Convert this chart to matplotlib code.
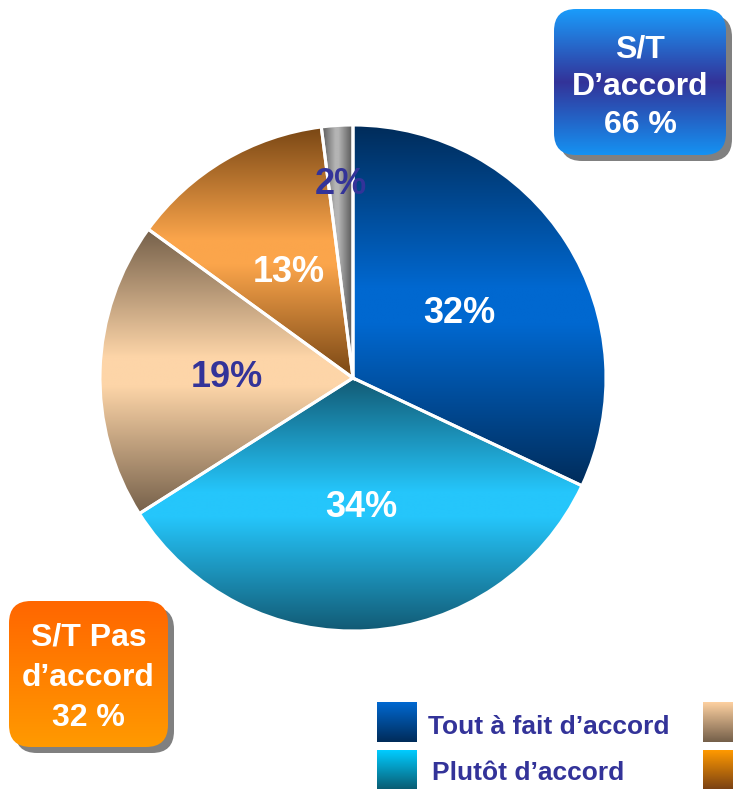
import numpy as np
import matplotlib
matplotlib.use("Agg")
import matplotlib.pyplot as plt
from matplotlib.colors import LinearSegmentedColormap
from matplotlib.patches import FancyBboxPatch, Rectangle

# ---------------- data ----------------
categories = ["Tout à fait d'accord", "Plutôt d'accord", "Plutôt pas d'accord",
              "Pas du tout d'accord", "NSP"]
legend_labels = ["Tout à fait d’accord", "Plutôt d’accord"]
values = [32, 34, 19, 13, 2]
pct_labels = ["32%", "34%", "19%", "13%", "2%"]
label_colors = ["white", "white", "#333399", "white", "#333399"]
box_top_lines = ["S/T", "D’accord", "66 %"]
box_bottom_lines = ["S/T Pas", "d’accord", "32 %"]

# gradient colours per slice (dark edge, bright centre)
slice_dark = ["#002c5a", "#125a74", "#75604a", "#784614", "#555555"]
slice_bright = ["#0068d0", "#25c6fb", "#fdd5a8", "#fba54b", "#b4b4b4"]

W, H = 733, 789
plt.rcParams['font.family'] = ['Liberation Sans', 'DejaVu Sans']
fig = plt.figure(figsize=(W / 100, H / 100), dpi=100)
ax = fig.add_axes([0, 0, 1, 1])


def Y(py):
    return H - py


cx, cy, R = 353, Y(378), 253

wedges, _ = ax.pie(values, startangle=90, counterclock=False,
                   center=(cx, cy), radius=R,
                   wedgeprops=dict(facecolor="none", edgecolor="white",
                                   linewidth=2.2, zorder=5))

for i, w in enumerate(wedges):
    bb = w.get_path().get_extents()
    cmap = LinearSegmentedColormap.from_list(
        "g%d" % i, [(0, slice_dark[i]), (0.45, slice_bright[i]),
                    (0.55, slice_bright[i]), (1, slice_dark[i])])
    t = np.linspace(0, 1, 256)
    if i == 4:
        img = t[None, :]
    else:
        img = t[:, None]
    im = ax.imshow(img, cmap=cmap, extent=[bb.x0, bb.x1, bb.y0, bb.y1],
                   origin="lower", aspect="auto", interpolation="bilinear", zorder=2)
    im.set_clip_path(w)

    # label
    mid = np.deg2rad((w.theta1 + w.theta2) / 2)
    frac = 0.78 if i == 4 else 0.5
    ax.text(cx + frac * R * np.cos(mid), cy + frac * R * np.sin(mid) - 3, pct_labels[i],
            ha="center", va="center", fontsize=26, fontweight="bold",
            color=label_colors[i], zorder=7)


def gradient_box(x0, y0, x1, y1, colors, stops, lines, line_gap, yshift):
    shadow = FancyBboxPatch((x0 + 6, y0 - 6), x1 - x0, y1 - y0,
                            boxstyle="round,pad=0,rounding_size=22",
                            facecolor="#808080", edgecolor="none", zorder=3)
    ax.add_patch(shadow)
    box = FancyBboxPatch((x0, y0), x1 - x0, y1 - y0,
                         boxstyle="round,pad=0,rounding_size=22",
                         facecolor="none", edgecolor="none", zorder=4)
    ax.add_patch(box)
    cmap = LinearSegmentedColormap.from_list("b", list(zip(stops, colors)))
    im = ax.imshow(np.linspace(0, 1, 256)[:, None], cmap=cmap,
                   extent=[x0, x1, y0, y1], origin="lower", aspect="auto",
                   interpolation="bilinear", zorder=4)
    im.set_clip_path(box)
    xc = (x0 + x1) / 2
    yc = (y0 + y1) / 2 - yshift
    n = len(lines)
    for k, s in enumerate(lines):
        ax.text(xc, yc + (n - 1) / 2 * line_gap - k * line_gap, s,
                ha="center", va="center", fontsize=23, fontweight="bold",
                color="white", zorder=6)


# top right box (blue)
gradient_box(554, Y(155), 726, Y(9),
             ["#1592f2", "#333399", "#1a9cfb"], [0, 0.5, 1],
             box_top_lines, 38, 5)
# bottom left box (orange)
gradient_box(9, Y(747), 168, Y(601),
             ["#ff9a00", "#ff6600"], [0, 1],
             box_bottom_lines, 40, 4)

# legend
leg_squares = [
    (377, 702, "#0068d0", "#002c5a"),
    (377, 750, "#00ccff", "#0a5a70"),
    (703, 702, "#fdd0a0", "#75604a"),
    (703, 750, "#ff9900", "#784014"),
]
for (px, py, top, bot) in leg_squares:
    rect = Rectangle((px, Y(py + 40)), 40, 40, facecolor="none", edgecolor="none")
    ax.add_patch(rect)
    cmap = LinearSegmentedColormap.from_list("l", [bot, top])
    im = ax.imshow(np.linspace(0, 1, 64)[:, None], cmap=cmap,
                   extent=[px, px + 40, Y(py + 40), Y(py)], origin="lower",
                   aspect="auto", interpolation="bilinear", zorder=4)
    im.set_clip_path(rect)

ax.text(428, Y(727), legend_labels[0], ha="left", va="center", fontsize=19,
        fontweight="bold", color="#333399")
ax.text(432, Y(773), legend_labels[1], ha="left", va="center", fontsize=19,
        fontweight="bold", color="#333399")

ax.set_xlim(0, W)
ax.set_ylim(0, H)
ax.set_aspect("auto")
ax.axis("off")
fig.savefig("out.png", dpi=100)
